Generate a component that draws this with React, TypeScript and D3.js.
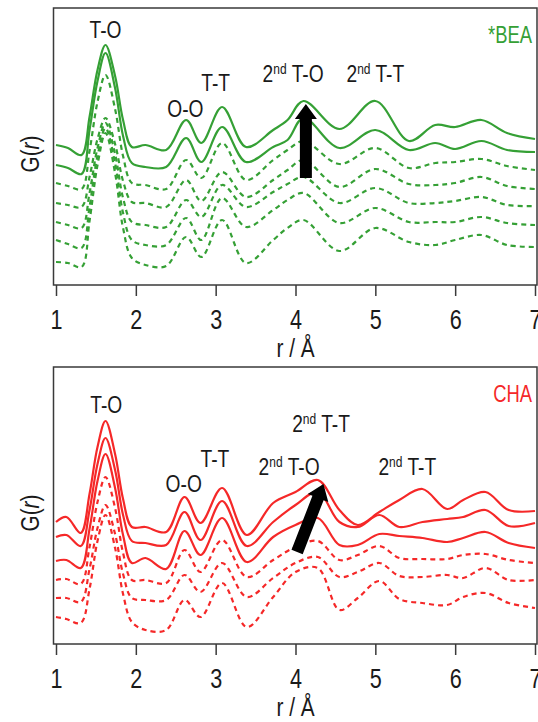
import { useEffect, useRef } from 'react'
import * as d3 from 'd3'

// r grid (Å) and G(r) traces, arbitrary units, top panel (*BEA)
const rBEA = [1.0, 1.15, 1.32, 1.42, 1.52, 1.62, 1.74, 1.84, 1.95, 2.12, 2.38, 2.63, 2.82, 3.08, 3.38, 3.72, 3.9, 4.1, 4.55, 5.0, 5.42, 5.75, 6.0, 6.33, 6.65, 7.0]
const beaSolidA = [139, 136, 129, 167, 214, 239, 208, 164, 137, 139, 134, 164, 141, 177, 137, 154, 164, 183, 155, 183, 143, 159, 157, 164, 151, 145]
const beaSolidB = [119, 116, 110, 154, 203, 231, 196, 148, 121, 117, 117, 146, 122, 157, 122, 137, 144, 166, 136, 154, 134, 141, 135, 143, 134, 132]
const beaDash1 = [101, 98, 95, 133, 182, 209, 175, 128, 101, 99, 95, 124, 106, 141, 104, 124, 134, 143, 120, 136, 116, 121, 122, 125, 118, 114]
const beaDash2 = [81, 79, 77, 107, 145, 166, 140, 103, 82, 81, 77, 104, 83, 112, 87, 104, 114, 124, 97, 115, 100, 99, 101, 107, 98, 95]
const beaDash3 = [62, 59, 56, 91, 136, 161, 130, 86, 62, 59, 57, 84, 67, 99, 77, 92, 100, 107, 81, 96, 81, 81, 83, 87, 79, 78]
const beaDash4 = [44, 40, 36, 77, 128, 156, 121, 71, 44, 39, 39, 66, 44, 86, 57, 74, 84, 91, 61, 76, 62, 62, 62, 67, 61, 59]
const beaDash5 = [22, 21, 17, 63, 119, 151, 111, 56, 26, 19, 18, 47, 27, 64, 21, 44, 56, 64, 33, 56, 42, 39, 44, 49, 39, 37]

// bottom panel (CHA)
const rCHA = [1.0, 1.13, 1.31, 1.42, 1.52, 1.62, 1.74, 1.84, 1.95, 2.12, 2.38, 2.61, 2.81, 3.08, 3.39, 3.72, 4.0, 4.28, 4.55, 4.78, 5.05, 5.3, 5.59, 5.9, 6.1, 6.38, 6.67, 7.0]
const chaSolidA = [121, 126, 110, 149, 196, 222, 189, 144, 116, 116, 111, 146, 120, 155, 108, 140, 151, 163, 133, 118, 131, 143, 154, 134, 143, 151, 133, 132]
const chaSolidB = [106, 108, 97, 133, 179, 205, 173, 128, 102, 100, 98, 131, 103, 142, 97, 121, 138, 151, 121, 116, 128, 116, 121, 124, 126, 133, 117, 120]
const chaSolidC = [82, 83, 75, 114, 162, 189, 155, 108, 80, 85, 74, 112, 88, 125, 81, 106, 118, 125, 98, 98, 109, 107, 105, 101, 105, 111, 100, 95]
const chaDash1 = [63, 64, 59, 96, 141, 166, 135, 90, 63, 63, 60, 93, 71, 103, 66, 83, 96, 102, 83, 88, 97, 85, 84, 84, 88, 89, 83, 80]
const chaDash2 = [45, 45, 41, 74, 115, 138, 109, 69, 45, 43, 43, 68, 51, 80, 46, 65, 80, 86, 66, 71, 80, 67, 66, 68, 65, 75, 63, 63]
const chaDash3 = [26, 24, 20, 54, 102, 128, 95, 49, 21, 13, 13, 43, 26, 60, 16, 46, 71, 75, 33, 45, 62, 44, 40, 38, 46, 50, 40, 35]

const xTicks = [1, 2, 3, 4, 5, 6, 7]

// peak labels at (r, G); pre = ordinal number before a superscript "nd"
const beaLabels = [
  { pre: '', text: 'T-O', r: 1.62, g: 246 },
  { pre: '', text: 'O-O', r: 2.62, g: 167 },
  { pre: '', text: 'T-T', r: 3.0, g: 193 },
  { pre: '2', text: ' T-O', r: 3.97, g: 202 },
  { pre: '2', text: ' T-T', r: 5.0, g: 202 }
]
const chaLabels = [
  { pre: '', text: 'T-O', r: 1.63, g: 230 },
  { pre: '', text: 'O-O', r: 2.6, g: 151 },
  { pre: '', text: 'T-T', r: 2.99, g: 176 },
  { pre: '2', text: ' T-O', r: 3.92, g: 168 },
  { pre: '2', text: ' T-T', r: 4.32, g: 211 },
  { pre: '2', text: ' T-T', r: 5.4, g: 168 }
]
// arrows: tail -> tip in (r, G)
const beaArrow = [[4.13, 106], [4.13, 180]]
const chaArrow = [[4.02, 91], [4.35, 159]]

const GREEN = '#35a035'
const RED = '#f52828'
const FONT = '"Liberation Sans", Arial, sans-serif'
const SQ = 0.8 // narrow the type horizontally

export default function App() {
  const ref = useRef<SVGSVGElement | null>(null)

  useEffect(() => {
    const svg = d3.select(ref.current)
    svg.selectAll('*').remove()

    const x = d3.scaleLinear().domain([1, 7]).range([56, 535])

    const addText = (g: any, tx: number, ty: number, size: number, anchor = 'middle', rot = 0) =>
      g.append('text')
        .attr('transform', `translate(${tx},${ty})${rot ? ` rotate(${rot})` : ''} scale(${SQ},1)`)
        .attr('text-anchor', anchor)
        .style('font-family', FONT).style('font-size', `${size}px`)
        .attr('fill', '#1a1a1a')

    const panels = [
      {
        top: 8, bottom: 284, color: GREEN, name: '*BEA', r: rBEA,
        series: [beaSolidA, beaSolidB, beaDash1, beaDash2, beaDash3, beaDash4, beaDash5],
        solid: 2, labels: beaLabels, arrow: beaArrow
      },
      {
        top: 367, bottom: 643, color: RED, name: 'CHA', r: rCHA,
        series: [chaSolidA, chaSolidB, chaSolidC, chaDash1, chaDash2, chaDash3],
        solid: 3, labels: chaLabels, arrow: chaArrow
      }
    ]

    panels.forEach(p => {
      const y = d3.scaleLinear().domain([0, 276]).range([p.bottom, p.top])
      const g = svg.append('g')

      // frame
      g.append('rect')
        .attr('x', 53.5).attr('y', p.top)
        .attr('width', 537 - 53.5).attr('height', p.bottom - p.top + 1)
        .attr('fill', 'none').attr('stroke', '#3a3a3a').attr('stroke-width', 1.5)

      // x axis
      const axis = g.append('g')
        .attr('transform', `translate(0,${p.bottom + 1})`)
        .call(d3.axisBottom(x).tickValues(xTicks).tickSize(11).tickSizeOuter(0).tickPadding(14).tickFormat(d3.format('d')))
      axis.select('.domain').remove()
      axis.selectAll('line').attr('stroke', '#3a3a3a').attr('stroke-width', 1.5)
      axis.selectAll('text')
        .attr('fill', '#1a1a1a')
        .attr('transform', `scale(${SQ},1)`)
        .style('font-family', FONT).style('font-size', '27px')

      addText(g, x(4), p.bottom + 73, 26).text('r / Å')

      // y label
      const yl = addText(g, 39, (p.top + p.bottom) / 2 + 8, 26, 'middle', -90)
      yl.append('tspan').text('G(')
      yl.append('tspan').style('font-style', 'italic').text('r')
      yl.append('tspan').text(')')

      // traces
      const line = d3.line<number>()
        .x((_, i) => x(p.r[i]))
        .y(d => y(d))
        .curve(d3.curveCatmullRom.alpha(0.5))

      p.series.forEach((s, i) => {
        g.append('path')
          .attr('d', line(s))
          .attr('fill', 'none')
          .attr('stroke', p.color)
          .attr('stroke-width', 2.2)
          .attr('stroke-dasharray', i < p.solid ? null : '5,4')
      })

      // arrow
      const [t0, t1] = p.arrow
      const x0 = x(t0[0]), y0 = y(t0[1]), x1 = x(t1[0]), y1 = y(t1[1])
      const ang = Math.atan2(y1 - y0, x1 - x0)
      const len = Math.hypot(x1 - x0, y1 - y0)
      const head = 15, hw = 11, sw = 6
      const pts = [
        [0, -sw], [len - head, -sw], [len - head, -hw], [len, 0],
        [len - head, hw], [len - head, sw], [0, sw]
      ]
      g.append('polygon')
        .attr('points', pts.map(q => q.join(',')).join(' '))
        .attr('transform', `translate(${x0},${y0}) rotate(${ang * 180 / Math.PI})`)
        .attr('fill', '#000')

      // peak labels
      p.labels.forEach(l => {
        const t = addText(g, x(l.r), y(l.g), 24)
        if (l.pre) {
          t.append('tspan').text(l.pre)
          t.append('tspan').attr('dy', -8).style('font-size', '15px').text('nd')
          t.append('tspan').attr('dy', 8).text(l.text)
        } else {
          t.text(l.text)
        }
      })

      addText(g, 532, p.top + 35, 23, 'end').attr('fill', p.color).text(p.name)
    })
  }, [])

  return (
    <div style={{ position: 'absolute', left: 0, top: 0, background: '#fff' }}>
      <svg ref={ref} width={538} height={722} style={{ display: 'block' }} />
    </div>
  )
}
